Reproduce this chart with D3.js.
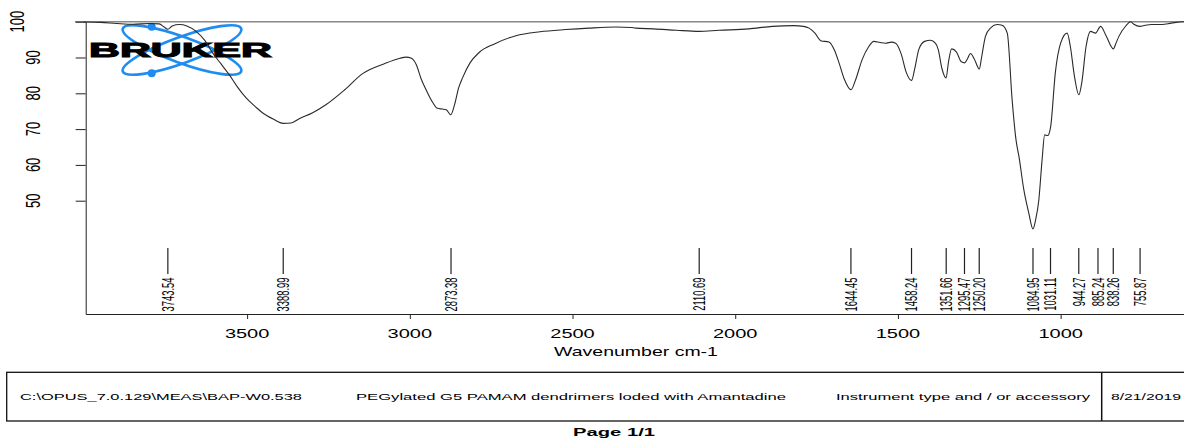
<!DOCTYPE html>
<html>
<head>
<meta charset="utf-8">
<script src="https://cdn.jsdelivr.net/npm/d3@7"></script>
<style>
  body { margin: 0; background: #fff; }
  text { font-family: "Liberation Sans", Arial, sans-serif; fill: #000; }
</style>
</head>
<body>
<div id="chart"></div>
<script>
// spectrum (wavenumber cm-1, transmittance %)
const wavenumbers = [4000, 3950, 3900, 3850, 3800, 3770, 3756, 3744, 3730, 3708, 3685, 3657, 3630, 3606, 3580, 3555, 3530, 3503, 3475, 3452, 3420, 3389, 3365, 3340, 3300, 3258, 3200, 3145, 3080, 3030, 3012, 2995, 2980, 2965, 2950, 2930, 2915, 2900, 2888, 2874, 2862, 2850, 2838, 2815, 2787, 2740, 2674, 2600, 2521, 2450, 2367, 2320, 2306, 2250, 2180, 2111, 2050, 1958, 1886, 1820, 1790, 1773, 1755, 1737, 1712, 1695, 1681, 1665, 1644, 1630, 1610, 1590, 1574, 1555, 1538, 1520, 1507, 1490, 1475, 1458, 1448, 1436, 1418, 1400, 1385, 1376, 1365, 1352, 1345, 1335, 1320, 1305, 1295, 1287, 1277, 1265, 1250, 1243, 1231, 1215, 1195, 1180, 1164, 1149, 1137, 1128, 1113, 1098, 1085, 1077, 1067, 1057, 1049, 1040, 1031, 1016, 1000, 980, 970, 958, 944, 935, 922, 908, 893, 877, 860, 838, 830, 821, 800, 785, 775, 756, 740, 720, 688, 660, 625, 600];
const transmittance = [99.9, 99.8, 99.5, 99.3, 99.5, 99.4, 98.6, 97.9, 98.8, 99.2, 98.8, 97.3, 94.8, 91.3, 88.2, 85.2, 81.8, 78.7, 76.3, 74.5, 72.8, 71.6, 71.7, 72.9, 74.5, 76.8, 81.0, 85.5, 88.2, 89.8, 90.1, 89.8, 88.0, 84.0, 81.0, 77.5, 75.8, 75.6, 75.4, 74.0, 77.0, 81.5, 84.3, 88.5, 91.4, 93.8, 96.1, 97.2, 97.8, 98.2, 98.5, 98.4, 98.2, 98.0, 97.6, 97.3, 97.6, 98.0, 98.7, 98.9, 98.7, 98.2, 96.8, 94.7, 94.3, 92.0, 88.5, 84.0, 81.0, 83.8, 89.4, 93.0, 94.5, 94.2, 94.0, 94.3, 94.0, 91.0, 86.0, 83.6, 87.0, 92.2, 94.5, 94.8, 94.0, 92.2, 87.0, 84.3, 88.5, 92.4, 91.5, 88.8, 88.5, 89.5, 91.1, 89.5, 86.8, 90.0, 95.9, 98.3, 99.2, 99.0, 96.8, 78.1, 66.9, 62.3, 53.0, 46.6, 42.1, 44.6, 50.2, 61.4, 68.4, 68.2, 70.5, 86.0, 94.0, 96.8, 93.0, 85.0, 79.6, 83.0, 93.0, 97.3, 96.8, 98.7, 96.0, 92.4, 94.0, 95.9, 98.8, 100.0, 99.3, 98.7, 99.0, 99.2, 99.2, 99.6, 100.0, 100.0];

const peakLabels = [3743.54, 3388.99, 2873.38, 2110.69, 1644.45, 1458.24, 1351.66, 1295.47, 1250.20, 1084.95, 1031.11, 944.27, 885.24, 838.26, 755.87];
const xTicks = [3500, 3000, 2500, 2000, 1500, 1000];
const yTicks = [50, 60, 70, 80, 90, 100];
const footerTexts = ["C:\\OPUS_7.0.129\\MEAS\\BAP-W0.538", "PEGylated G5 PAMAM dendrimers loded with Amantadine", "Instrument type and / or accessory", "8/21/2019"];

const width = 1184, height = 439;

const svg = d3.select("#chart").append("svg")
    .attr("width", width)
    .attr("height", height);

const x = d3.scaleLinear().domain([3996, 600]).range([85.7, 1190.8]);
const y = d3.scaleLinear().domain([18.35, 100]).range([314, 21.7]);

// the page is stretched sideways, so every text is too
const sx = 1.55;

// logo
const logo = svg.append("g");
[-20, 20].forEach(a => {
    logo.append("ellipse")
        .attr("cx", 0).attr("cy", 0).attr("rx", 63).attr("ry", 13)
        .attr("transform", `translate(182,50) rotate(${a})`)
        .attr("fill", "none")
        .attr("stroke", "#1e8cf0")
        .attr("stroke-width", 2.6);
});
logo.selectAll("circle")
    .data([26.7, 73.3])
    .enter().append("circle")
    .attr("cx", 151.7).attr("cy", d => d).attr("r", 4)
    .attr("fill", "#1e8cf0");
logo.append("text")
    .attr("x", 89).attr("y", 57)
    .attr("font-size", 19.5)
    .attr("font-weight", 900)
    .attr("stroke", "#000")
    .attr("stroke-width", 1)
    .attr("textLength", 183)
    .attr("lengthAdjust", "spacingAndGlyphs")
    .text("BRUKER");

// top line at 100 %
svg.append("line")
    .attr("x1", 75).attr("x2", width)
    .attr("y1", y(100)).attr("y2", y(100))
    .attr("stroke", "#888").attr("stroke-width", 1.5);

// y axis
const yAxis = svg.append("g")
    .attr("transform", "translate(85.7,0)")
    .call(d3.axisLeft(y).tickValues(yTicks).tickSize(10).tickSizeOuter(0).tickFormat(""));
yAxis.selectAll("path, line").attr("stroke", "#222");

svg.selectAll(".ylab")
    .data(yTicks)
    .enter().append("text")
    .attr("class", "ylab")
    .attr("transform", d => `translate(${d === 100 ? 16.5 : 33},${y(d)}) scale(${sx},1) rotate(-90)`)
    .attr("text-anchor", "middle")
    .attr("dy", "0.35em")
    .attr("font-size", 13)
    .text(d => d);

// x axis
const xAxis = svg.append("g")
    .attr("transform", "translate(0,314)")
    .call(d3.axisBottom(x).tickValues(xTicks).tickSize(5).tickSizeOuter(0).tickFormat(""));
xAxis.selectAll("path, line").attr("stroke", "#222");

svg.selectAll(".xlab")
    .data(xTicks)
    .enter().append("text")
    .attr("class", "xlab")
    .attr("transform", d => `translate(${x(d)},337.5) scale(1.6,1)`)
    .attr("text-anchor", "middle")
    .attr("font-size", 12.5)
    .text(d => d);

svg.append("text")
    .attr("transform", `translate(636,355.5) scale(1.5,1)`)
    .attr("text-anchor", "middle")
    .attr("font-size", 13)
    .text("Wavenumber cm-1");

// spectrum
const line = d3.line()
    .x(d => x(d[0]))
    .y(d => y(d[1]))
    .curve(d3.curveMonotoneX);

svg.append("path")
    .datum(d3.zip(wavenumbers, transmittance))
    .attr("fill", "none")
    .attr("stroke", "#2a2a2a")
    .attr("stroke-width", 1.1)
    .attr("d", line);

// peak picks
const peaks = svg.append("g");
peaks.selectAll("line")
    .data(peakLabels)
    .enter().append("line")
    .attr("x1", d => x(d)).attr("x2", d => x(d))
    .attr("y1", 248).attr("y2", 274)
    .attr("stroke", "#222").attr("stroke-width", 1.2);
peaks.selectAll("text")
    .data(peakLabels)
    .enter().append("text")
    .attr("transform", d => `translate(${x(d)},277.5) scale(1.8,1) rotate(-90)`)
    .attr("text-anchor", "end")
    .attr("dy", "0.35em")
    .attr("font-size", 9.4)
    .text(d => d.toFixed(2));

// footer box
const footer = svg.append("g");
footer.append("rect")
    .attr("x", 6.7).attr("y", 372.3)
    .attr("width", width + 10).attr("height", 48.7)
    .attr("fill", "none").attr("stroke", "#111").attr("stroke-width", 1.3);
footer.append("line")
    .attr("x1", 1101.7).attr("x2", 1101.7)
    .attr("y1", 372.3).attr("y2", 421)
    .attr("stroke", "#111").attr("stroke-width", 1.5);

const footerPos = [[20, 282], [356, 430], [836, 254], [1111, 70]];
footer.selectAll(".ft")
    .data(footerTexts)
    .enter().append("text")
    .attr("class", "ft")
    .attr("x", (d, i) => footerPos[i][0])
    .attr("y", 400)
    .attr("font-size", 9.4)
    .attr("textLength", (d, i) => footerPos[i][1])
    .attr("lengthAdjust", "spacingAndGlyphs")
    .text(d => d);

svg.append("text")
    .attr("x", 573).attr("y", 436)
    .attr("font-size", 11.5)
    .attr("font-weight", "bold")
    .attr("textLength", 82)
    .attr("lengthAdjust", "spacingAndGlyphs")
    .text("Page 1/1");
</script>
</body>
</html>
